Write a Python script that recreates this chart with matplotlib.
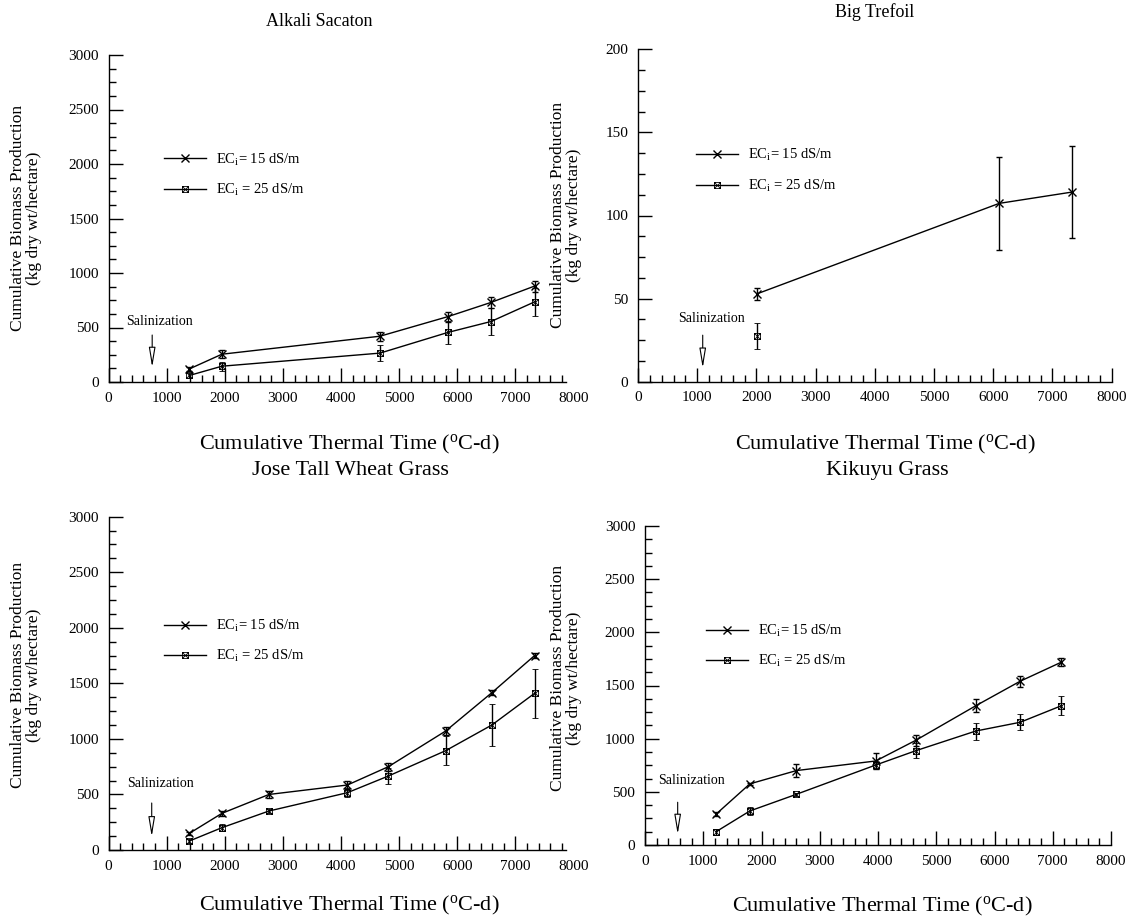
import numpy as np
import matplotlib
matplotlib.use("Agg")
import matplotlib.pyplot as plt
from matplotlib.path import Path
from matplotlib.ticker import MultipleLocator, FixedLocator

plt.rcParams['font.family'] = ['Liberation Serif', 'DejaVu Serif']
plt.rcParams['mathtext.fontset'] = 'custom'
plt.rcParams['mathtext.rm'] = 'Liberation Serif'
plt.rcParams['mathtext.it'] = 'Liberation Serif:italic'

# ---------------- data ----------------
# Alkali Sacaton
alk_x = [1390, 1950, 4670, 5840, 6580, 7330]
alk_y15 = [120, 255, 420, 600, 730, 880]
alk_e15 = [20, 35, 40, 45, 50, 50]
alk_y25 = [60, 145, 265, 455, 555, 735]
alk_e25 = [20, 40, 76, 106, 122, 130]

# Big Trefoil
big_x15 = [2005, 6100, 7330]
big_y15 = [52.8, 107.3, 114.1]
big_e15 = [3.5, 28, 27.7]
big_x25 = [2005]
big_y25 = [27.5]
big_e25 = [8]

# Jose Tall Wheat Grass
jos_x = [1390, 1950, 2760, 4110, 4815, 5800, 6595, 7330]
jos_y15 = [150, 330, 500, 585, 750, 1071, 1416, 1750]
jos_e15 = [15, 25, 30, 40, 36, 33, 25, 20]
jos_y25 = [81, 201, 351, 516, 666, 894, 1125, 1410]
jos_e25 = [15, 30, 20, 40, 72, 128, 189, 220]

# Kikuyu Grass
kik_x = [1220, 1800, 2600, 3960, 4650, 5680, 6440, 7150]
kik_y15 = [290, 575, 700, 790, 985, 1310, 1540, 1720]
kik_e15 = [20, 10, 63, 78, 54, 60, 54, 40]
kik_y25 = [125, 320, 477, 752, 887, 1072, 1154, 1310]
kik_e25 = [30, 35, 15, 35, 70, 80, 75, 90]

labels = ["EC$_{\\rm i}$= 15 dS/m", "EC$_{\\rm i}$ = 25 dS/m"]
xlabel = "Cumulative Thermal Time ($^{\\rm o}$C-d)"
ylabel = "Cumulative Biomass Production\n(kg dry wt/hectare)"

# salinization arrow: x, y_start, y_tip ; text x, y
sal = {
    'alk': (750, 431, 135, 873, 553),
    'big': (1093, 28, 8.2, 1245, 38.3),
    'jos': (742, 423, 120, 893, 600),
    'kik': (561, 402, 101, 802, 611),
}

# ---------------- figure ----------------
W, H = 1133, 924
fig = plt.figure(figsize=(W / 100, H / 100), dpi=100)
fig.patch.set_facecolor('white')


def axpx(l, r, t, b):
    return fig.add_axes([l / W, 1 - b / H, (r - l) / W, (b - t) / H])


sqx = Path([(-1, -1), (1, -1), (1, 1), (-1, 1), (-1, -1), (1, 1), (-1, 1), (1, -1)],
           [Path.MOVETO, Path.LINETO, Path.LINETO, Path.LINETO, Path.CLOSEPOLY,
            Path.LINETO, Path.MOVETO, Path.LINETO])


def style(ax, ymax, ymaj, ymin_step, xcut=None):
    ax.set_xlim(0, 8000)
    ax.set_ylim(0, ymax)
    ax.xaxis.set_major_locator(FixedLocator(np.arange(0, 8001, 1000)))
    ax.xaxis.set_minor_locator(MultipleLocator(200))
    ax.yaxis.set_major_locator(MultipleLocator(ymaj))
    ax.yaxis.set_minor_locator(MultipleLocator(ymin_step))
    for s in ['top', 'right']:
        ax.spines[s].set_visible(False)
    for s in ['left', 'bottom']:
        ax.spines[s].set_linewidth(1.0)
    ax.tick_params(which='major', direction='in', length=10, width=1, labelsize=11, pad=7)
    ax.tick_params(which='minor', direction='in', length=5, width=1)
    ax.tick_params(top=False, right=False)
    ax.set_facecolor('none')
    if xcut is not None:
        ax.spines['bottom'].set_bounds(0, xcut)
        ax.xaxis.set_minor_locator(FixedLocator([v for v in np.arange(0, 8001, 200)
                                                  if v % 1000 and v <= xcut]))
        fig.canvas.draw()
        for t in ax.xaxis.get_major_ticks():
            if t.get_loc() > xcut:
                t.tick1line.set_visible(False)


def plot_series(ax, x15, y15, e15, x25, y25, e25):
    c15 = ax.errorbar(x15, y15, yerr=e15, color='k', lw=1, elinewidth=1, capsize=2.5,
                      capthick=1, marker='x', ms=5.5, mew=1)
    c25 = ax.errorbar(x25, y25, yerr=e25, color='k', lw=1, elinewidth=1, capsize=2.5,
                      capthick=1, marker=sqx, ms=4.3, mew=0.6, mfc='none', mec='k',
                      ls='-' if len(x25) > 1 else 'none')
    return c15, c25


def add_legend(ax, c15, c25, anchor):
    h25 = c25[0]
    if h25.get_linestyle() in ('None', 'none', ''):
        from matplotlib.lines import Line2D
        h25 = Line2D([], [], color='k', lw=1, marker=sqx, ms=4.3, mew=0.6, mfc='none', mec='k')
    ax.legend([c15[0], h25], labels, loc='upper left', bbox_to_anchor=anchor,
              frameon=False, fontsize=10.5, handlelength=2.9, handletextpad=0.7,
              labelspacing=1.0, borderpad=0, borderaxespad=0)


def add_sal(ax, key):
    x, y0, y1, tx, ty = sal[key]
    ax.annotate('', xy=(x, y1), xytext=(x, y0),
                arrowprops=dict(arrowstyle='-|>,head_length=1.2,head_width=0.2',
                                mutation_scale=10, fc='white', ec='k', lw=0.8,
                                shrinkA=0, shrinkB=0))
    ax.text(tx, ty, 'Salinization', ha='center', va='center', fontsize=10)


def ftext(x, y, s, **kw):
    fig.text(x / W, 1 - y / H, s, ha='center', va='center', **kw)


# Panel 1: Alkali Sacaton
ax1 = axpx(108.6, 573.5, 55, 382)
c15, c25 = plot_series(ax1, alk_x, alk_y15, alk_e15, alk_x, alk_y25, alk_e25)
style(ax1, 3000, 500, 125, xcut=7870)
add_legend(ax1, c15, c25, (0.119, 0.705))
add_sal(ax1, 'alk')

# Panel 2: Big Trefoil
ax2 = axpx(638, 1111.7, 49.3, 381.7)
c15, c25 = plot_series(ax2, big_x15, big_y15, big_e15, big_x25, big_y25, big_e25)
style(ax2, 200, 50, 12.5)
add_legend(ax2, c15, c25, (0.122, 0.705))
add_sal(ax2, 'big')

# Panel 3: Jose Tall Wheat Grass
ax3 = axpx(108.6, 573.5, 516.7, 850)
c15, c25 = plot_series(ax3, jos_x, jos_y15, jos_e15, jos_x, jos_y25, jos_e25)
style(ax3, 3000, 500, 125, xcut=7870)
add_legend(ax3, c15, c25, (0.119, 0.697))
add_sal(ax3, 'jos')

# Panel 4: Kikuyu Grass
ax4 = axpx(645, 1111, 526, 845)
c15, c25 = plot_series(ax4, kik_x, kik_y15, kik_e15, kik_x, kik_y25, kik_e25)
style(ax4, 3000, 500, 125)
add_legend(ax4, c15, c25, (0.13, 0.697))
add_sal(ax4, 'kik')

# titles and axis labels
ftext(319, 21, 'Alkali Sacaton', fontsize=13)
ftext(875, 12, 'Big Trefoil', fontsize=13)
ftext(349, 444, xlabel, fontsize=16)
ftext(885, 444, xlabel, fontsize=16)
ftext(350, 470, 'Jose Tall Wheat Grass', fontsize=16)
ftext(887, 470, 'Kikuyu Grass', fontsize=16)
ftext(349, 905, xlabel, fontsize=16)
ftext(882, 906, xlabel, fontsize=16)

for (x, y) in [(26, 218), (566, 215), (26, 675), (566, 678)]:
    ftext(x, y, ylabel, fontsize=12.5, rotation=90, linespacing=1.05)

fig.savefig('out.png', dpi=100)
